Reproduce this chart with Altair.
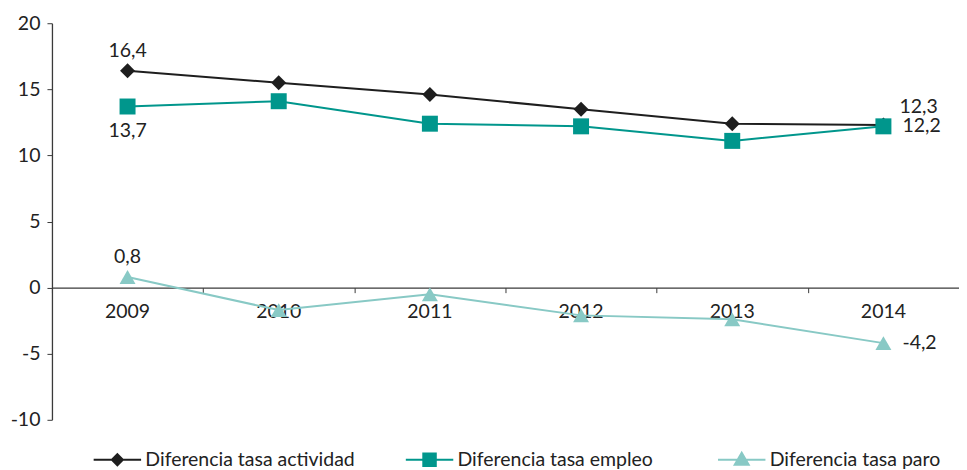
import altair as alt
import pandas as pd

years = ["2009", "2010", "2011", "2012", "2013", "2014"]
series = ["Diferencia tasa actividad", "Diferencia tasa empleo", "Diferencia tasa paro"]
actividad = [16.4, 15.5, 14.6, 13.5, 12.4, 12.3]
empleo = [13.7, 14.1, 12.4, 12.2, 11.1, 12.2]
paro = [0.8, -1.7, -0.5, -2.1, -2.4, -4.2]
y_ticks = [-10, -5, 0, 5, 10, 15, 20]

colors = ["#1e1e1e", "#00968c", "#88c9c5"]
shapes = ["diamond", "square", "triangle-up"]
sizes = [225, 256, 256]
legend_paths = [
    "M-0.95,0H0.95M0,-0.22L0.22,0L0,0.22L-0.22,0Z",
    "M-0.95,0H0.95M-0.25,-0.25H0.25V0.25H-0.25Z",
    "M-0.95,0H0.95M0,-0.28L0.28,0.2H-0.28Z",
]

rows = []
for name, vals in zip(series, [actividad, empleo, paro]):
    for yr, v in zip(years, vals):
        rows.append({"serie": name, "year": yr, "value": v,
                     "label": f"{v:.1f}".replace(".", ","),
                     "key": name + "|" + yr})
df = pd.DataFrame(rows)
legend_df = pd.DataFrame({"serie": series})

FONT = "Lato"
FS = 19.5
TXT = "#222222"
AX = "#3a3a3a"
W = 908

x_scale = alt.Scale(type="band", domain=years, paddingInner=0,
                    paddingOuter={"expr": "-0.0443"}, align=0)

# axis with domain line and band-boundary ticks (no labels)
axis_ticks = alt.Axis(title=None, orient="bottom", tickBand="extent", values=years[:-1],
                      labels=False, offset=-132.3, tickSize=5, domainColor=AX,
                      tickColor=AX, domainWidth=1.3, grid=False)
# axis with the year labels only
axis_labels = alt.Axis(title=None, orient="bottom", domain=False, tickOpacity=0,
                       offset=-132.3, tickSize=5, labelPadding=10, labelFontSize=FS,
                       labelFont=FONT, labelColor=TXT, labelAngle=0, grid=False)

def xe(axis):
    return alt.X("year:N", bandPosition=0.5, scale=x_scale, axis=axis)

y_enc = alt.Y("value:Q", scale=alt.Scale(domain=[-10, 20], nice=False, zero=False),
              axis=alt.Axis(title=None, values=y_ticks, tickSize=5, labelPadding=7,
                            labelExpr="'' + datum.value",
                            labelFontSize=FS, labelFont=FONT, labelColor=TXT,
                            domainColor=AX, tickColor=AX, domainWidth=1.3, grid=False))
color_scale = alt.Scale(domain=series, range=colors)
color_enc = alt.Color("serie:N", scale=color_scale, legend=None)

base = alt.Chart(df)

lines = base.mark_line(strokeWidth=2).encode(x=xe(axis_ticks), y=y_enc, color=color_enc)

point_layers = []
for i, (name, shp, sz) in enumerate(zip(series, shapes, sizes)):
    point_layers.append(
        base.mark_point(filled=True, opacity=1, shape=shp, size=sz).encode(
            x=xe(axis_labels if i == 0 else None), y=y_enc, color=color_enc
        ).transform_filter(alt.datum.serie == name)
    )

def labels(keys, **kw):
    return base.mark_text(font=FONT, fontSize=FS, color=TXT, **kw).encode(
        x=xe(None), y=y_enc, text="label:N"
    ).transform_filter(alt.FieldOneOfPredicate(field="key", oneOf=keys))

lab_above = labels([series[0] + "|2009", series[2] + "|2009"], dy=-20)
lab_below = labels([series[1] + "|2009"], dy=25)
lab_right_up = labels([series[0] + "|2014"], align="left", dx=16, dy=-18)
lab_right = labels([series[1] + "|2014", series[2] + "|2014"], align="left", dx=19, dy=0)

main = alt.layer(lines, *point_layers, lab_above, lab_below, lab_right_up,
                 lab_right).resolve_axis(x="independent").properties(width=W, height=397)

# legend panel: line + marker symbol and label for each series
leg_x = alt.X("serie:N", axis=None,
              scale=alt.Scale(type="point", domain=series, padding=0.4528, align=0.2314))
leg_base = alt.Chart(legend_df)
leg_symbols = leg_base.mark_point(filled=True, opacity=1, size=2500, strokeWidth=2).encode(
    x=leg_x,
    color=alt.Color("serie:N", scale=color_scale, legend=None),
    stroke=alt.Stroke("serie:N", scale=alt.Scale(domain=series, range=colors), legend=None),
    shape=alt.Shape("serie:N", scale=alt.Scale(domain=series, range=legend_paths), legend=None),
)
leg_text = leg_base.mark_text(align="left", dx=28, font=FONT, fontSize=FS, color=TXT).encode(
    x=leg_x, text="serie:N"
)
legend_panel = alt.layer(leg_symbols, leg_text).properties(width=W, height=20)

chart = alt.vconcat(main, legend_panel, spacing=19).properties(
    autosize=alt.AutoSizeParams(type="pad"),
    padding={"left": 2, "top": 5, "right": 0, "bottom": 0},
).configure_view(stroke=None)

chart.save("out.html", embed_options={"renderer": "svg", "actions": False})
